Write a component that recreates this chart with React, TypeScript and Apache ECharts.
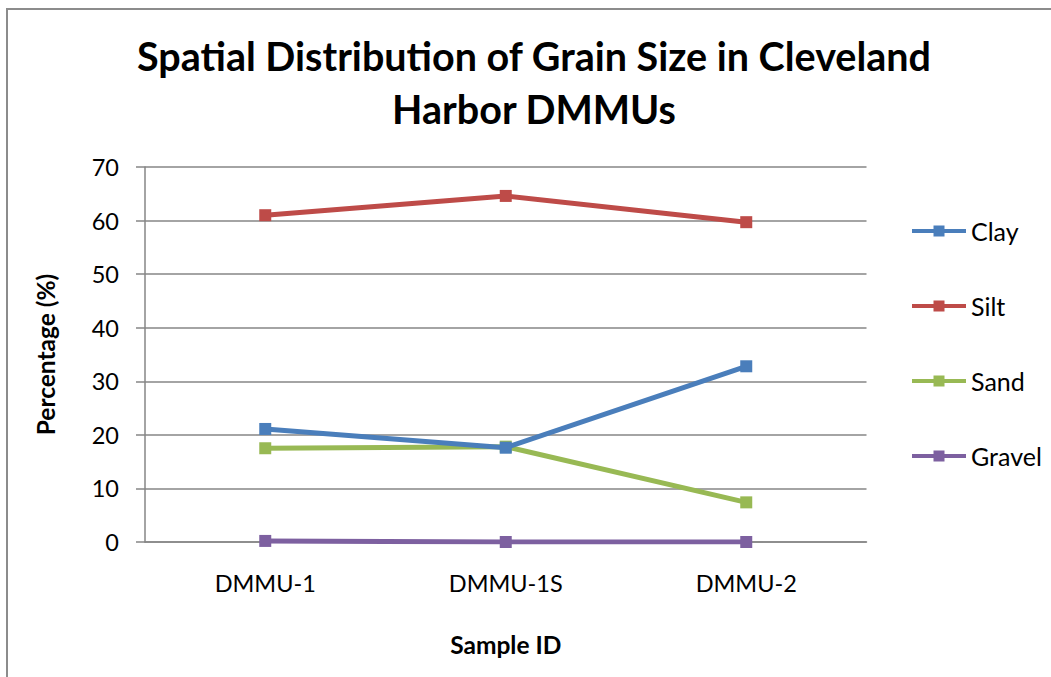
import React, { useEffect, useRef } from "react";
import * as echarts from "echarts";

const categories = ["DMMU-1", "DMMU-1S", "DMMU-2"];
const clay = [21.1, 17.6, 32.8];
const silt = [61.0, 64.6, 59.7];
const sand = [17.5, 17.8, 7.4];
const gravel = [0.2, 0.0, 0.0];
const seriesNames = ["Clay", "Silt", "Sand", "Gravel"];
const colors = ["#4A7EBB", "#BE4B48", "#98B954", "#7D60A0"];

const FONT = "Lato, 'Open Sans', sans-serif";
const LEGEND_ICON =
  "path://M0,3.5 L21.5,3.5 L21.5,0 L32.5,0 L32.5,3.5 L54,3.5 L54,7.5 L32.5,7.5 L32.5,11 L21.5,11 L21.5,7.5 L0,7.5 Z";

export default function App() {
  const ref = useRef<HTMLDivElement>(null);
  useEffect(() => {
    if (!ref.current) return;
    const chart = echarts.init(ref.current, undefined, { renderer: "svg" });
    const data = [clay, silt, sand, gravel];
    chart.setOption({
      animation: false,
      backgroundColor: "#fff",
      title: {
        text: "Spatial Distribution of Grain Size in Cleveland\nHarbor DMMUs",
        left: 534,
        top: 29,
        padding: 0,
        textAlign: "center",
        textStyle: {
          fontFamily: FONT,
          fontWeight: "bold",
          fontSize: 39.5,
          lineHeight: 53,
          color: "#000",
        },
      },
      graphic: [
        {
          type: "rect",
          shape: { x: 7, y: 9, width: 1100, height: 700 },
          style: { fill: "none", stroke: "#8c8c8c", lineWidth: 2 },
          silent: true,
        },
      ],
      legend: {
        orient: "vertical",
        left: 912,
        top: 218.5,
        padding: 0,
        icon: LEGEND_ICON,
        symbolKeepAspect: false,
        itemWidth: 54,
        itemHeight: 11,
        itemGap: 50,
        data: seriesNames,
        textStyle: { fontFamily: FONT, fontSize: 25, color: "#000", lineHeight: 25 },
      },
      grid: { left: 145, right: 184.5, top: 167, bottom: 135 },
      xAxis: {
        type: "category",
        data: categories,
        boundaryGap: true,
        name: "Sample ID",
        nameLocation: "middle",
        nameGap: 102,
        nameTextStyle: {
          fontFamily: FONT,
          fontWeight: "bold",
          fontSize: 24.5,
          color: "#000",
          verticalAlign: "middle",
        },
        axisLine: { show: true, lineStyle: { color: "#868686", width: 1.5 } },
        axisTick: { show: false },
        axisLabel: { fontFamily: FONT, fontSize: 23.5, color: "#000", margin: 29 },
      },
      yAxis: {
        type: "value",
        min: 0,
        max: 70,
        interval: 10,
        name: "Percentage (%)",
        nameLocation: "middle",
        nameGap: 100,
        nameRotate: 90,
        nameTextStyle: {
          fontFamily: FONT,
          fontWeight: "bold",
          fontSize: 24.5,
          color: "#000",
          align: "center",
          verticalAlign: "middle",
        },
        axisLine: { show: true, lineStyle: { color: "#868686", width: 1.5 } },
        axisTick: { show: true, inside: false, length: 9, lineStyle: { color: "#868686", width: 1.5 } },
        splitLine: { show: true, lineStyle: { color: "#868686", width: 1.5 } },
        axisLabel: { fontFamily: FONT, fontSize: 23.5, color: "#000", margin: 26 },
      },
      series: seriesNames.map((name, i) => ({
        name,
        type: "line",
        data: data[i],
        symbol: "rect",
        symbolSize: 12,
        color: colors[i],
        lineStyle: { width: 5, color: colors[i] },
        itemStyle: { color: colors[i] },
        z: 10 - i,
      })),
    });
    return () => chart.dispose();
  }, []);
  return (
    <div
      ref={ref}
      style={{ position: "absolute", left: 0, top: 0, width: 1051, height: 677 }}
    />
  );
}
